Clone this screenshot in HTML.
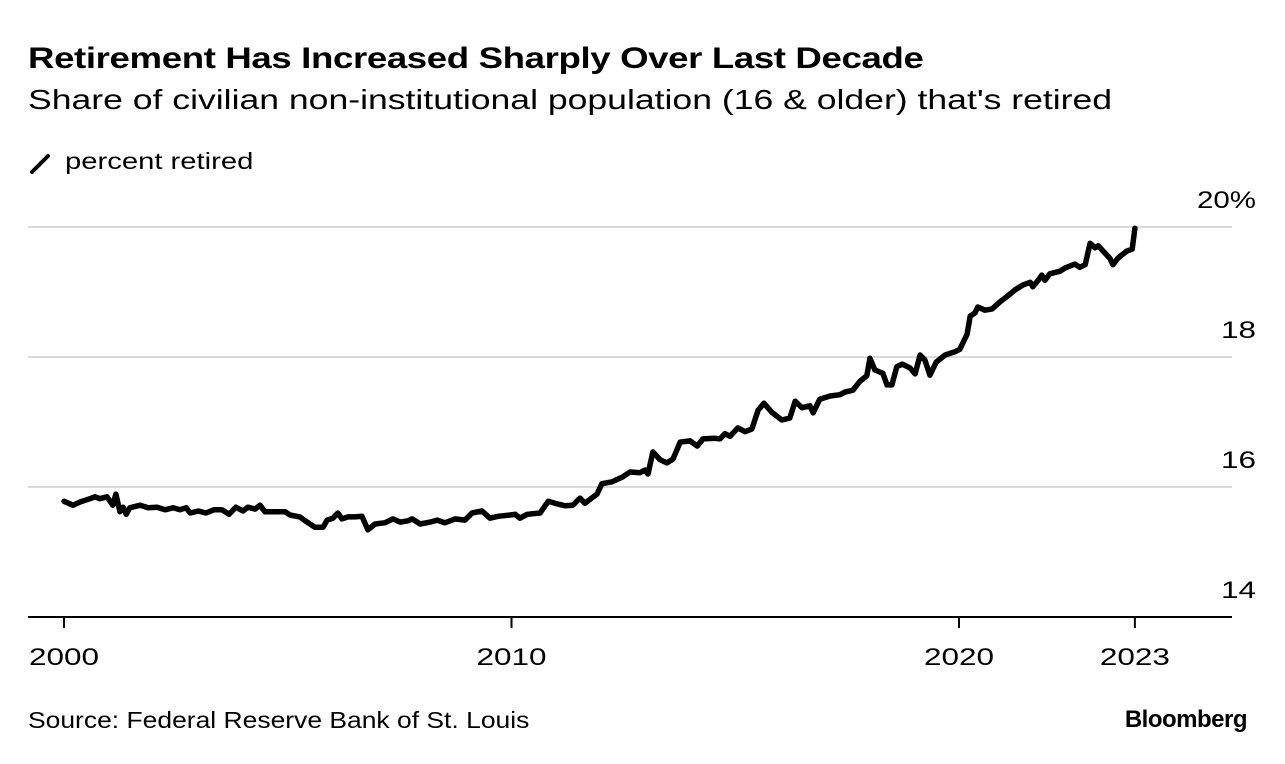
<!DOCTYPE html>
<html><head><meta charset="utf-8"><style>
body{margin:0;background:#fff;width:1285px;height:764px;overflow:hidden;font-family:"Liberation Sans",Arial,sans-serif;color:#000}
.t{position:absolute;white-space:nowrap;transform-origin:0 0}
</style></head><body>
<div class="t" style="left:28px;top:42px;font-size:30px;font-weight:bold;letter-spacing:-0.3px;transform:scaleX(1.22)">Retirement Has Increased Sharply Over Last Decade</div>
<div class="t" style="left:28px;top:84px;font-size:28px;transform:scaleX(1.27)">Share of civilian non-institutional population (16 &amp; older) that's retired</div>
<svg width="26" height="26" style="position:absolute;left:28px;top:150px"><line x1="4" y1="22" x2="20" y2="6" stroke="#000" stroke-width="4" stroke-linecap="round"/></svg>
<div class="t" style="left:65px;top:148px;font-size:23px;transform:scaleX(1.27)">percent retired</div>
<svg id="chart" width="1285" height="764" style="position:absolute;left:0;top:0"></svg>
<div class="t" style="left:28px;top:707px;font-size:23px;transform:scaleX(1.15)">Source: Federal Reserve Bank of St. Louis</div>
<div class="t" style="right:38px;top:706px;font-size:24px;font-weight:bold;letter-spacing:-0.5px">Bloomberg</div>
<script>
const years=[0,0.2,0.36,0.58,0.69,0.8,0.96,1.09,1.16,1.25,1.32,1.39,1.47,1.7,1.88,2.08,2.26,2.44,2.59,2.73,2.82,3,3.17,3.35,3.53,3.69,3.84,4,4.11,4.27,4.38,4.49,4.6,4.94,5.05,5.27,5.39,5.61,5.79,5.88,6.01,6.12,6.21,6.35,6.5,6.66,6.79,6.95,7.17,7.35,7.51,7.69,7.78,7.96,8.18,8.34,8.51,8.74,8.96,9.12,9.34,9.52,9.7,9.97,10.08,10.19,10.35,10.64,10.82,10.97,11.2,11.37,11.53,11.64,11.91,12.02,12.25,12.47,12.65,12.87,12.98,13.05,13.16,13.32,13.47,13.61,13.77,13.99,14.15,14.28,14.55,14.66,14.77,14.88,15.06,15.22,15.37,15.51,15.64,15.82,16.04,16.22,16.34,16.49,16.67,16.74,16.89,17.12,17.34,17.45,17.63,17.79,17.94,18.01,18.12,18.3,18.39,18.5,18.61,18.73,18.91,19.02,19.13,19.24,19.35,19.49,19.69,19.91,20.02,20.11,20.18,20.25,20.36,20.42,20.58,20.74,20.92,21.09,21.25,21.43,21.59,21.65,21.77,21.85,21.92,22.03,22.26,22.37,22.59,22.7,22.82,22.93,23.04,23.11,23.26,23.37,23.44,23.55,23.64,23.75,23.87,23.93];
const values=[15.78,15.72,15.77,15.82,15.85,15.82,15.85,15.72,15.89,15.62,15.69,15.58,15.68,15.72,15.68,15.69,15.65,15.68,15.65,15.68,15.6,15.63,15.6,15.65,15.65,15.58,15.69,15.63,15.69,15.66,15.72,15.62,15.62,15.62,15.57,15.54,15.48,15.38,15.38,15.49,15.52,15.6,15.51,15.54,15.54,15.55,15.34,15.43,15.45,15.51,15.46,15.48,15.51,15.43,15.46,15.49,15.45,15.51,15.49,15.6,15.63,15.52,15.55,15.57,15.58,15.52,15.58,15.6,15.78,15.75,15.71,15.72,15.83,15.75,15.89,16.05,16.08,16.15,16.23,16.22,16.26,16.2,16.54,16.42,16.37,16.43,16.69,16.71,16.63,16.74,16.75,16.74,16.82,16.78,16.91,16.85,16.89,17.18,17.29,17.15,17.03,17.06,17.32,17.22,17.25,17.14,17.35,17.4,17.42,17.46,17.49,17.63,17.71,17.98,17.8,17.75,17.57,17.57,17.85,17.89,17.83,17.74,18.03,17.95,17.72,17.92,18.03,18.08,18.12,18.25,18.35,18.63,18.68,18.77,18.72,18.74,18.85,18.94,19.03,19.11,19.15,19.08,19.18,19.26,19.18,19.28,19.32,19.37,19.43,19.38,19.42,19.75,19.68,19.71,19.6,19.52,19.42,19.52,19.57,19.63,19.66,19.98];
const yTicks=[14,16,18,20];
const yTickLabels=["14","16","18","20%"];
const xTicks=[0,10,20,23.93];
const xTickLabels=["2000","2010","2020","2023"];
const NS="http://www.w3.org/2000/svg";
const svg=document.getElementById('chart');
const xS=v=>64+v*44.75;
const yS=v=>617-(v-14)*65;
function mk(t,a){const e=document.createElementNS(NS,t);for(const k in a)e.setAttribute(k,a[k]);svg.appendChild(e);return e;}
function tl(s){let n=0;for(const c of s)n+=(c==='%')?24:17.5;return n;}
yTicks.forEach((v,i)=>{
  if(v>14){const g=mk('line',{x1:28,x2:1232,y1:yS(v),y2:yS(v),stroke:'#d9d9d9','stroke-width':2});
  
  }
  const t=mk('text',{x:1256,y:yS(v)-19,'text-anchor':'end','font-size':24,'font-family':'Liberation Sans, sans-serif',textLength:tl(yTickLabels[i]),lengthAdjust:'spacingAndGlyphs'});
  t.textContent=yTickLabels[i];
  
  
});
const base=mk('line',{x1:28,x2:1232,y1:617,y2:617,stroke:'#000','stroke-width':2});


xTicks.forEach((v,i)=>{
  const l=mk('line',{x1:xS(v),x2:xS(v),y1:617,y2:628,stroke:'#000','stroke-width':2});
  
  
  const t=mk('text',{x:xS(v),y:665,'text-anchor':'middle','font-size':24,'font-family':'Liberation Sans, sans-serif',textLength:tl(xTickLabels[i]),lengthAdjust:'spacingAndGlyphs'});
  t.textContent=xTickLabels[i];
  
  
});
let d='';years.forEach((y,i)=>{d+=(i?'L':'M')+xS(y).toFixed(1)+','+yS(values[i]).toFixed(1);});
const p=mk('path',{d:d,fill:'none',stroke:'#000','stroke-width':5.5,'stroke-linejoin':'round','stroke-linecap':'round'});


</script>
</body></html>
